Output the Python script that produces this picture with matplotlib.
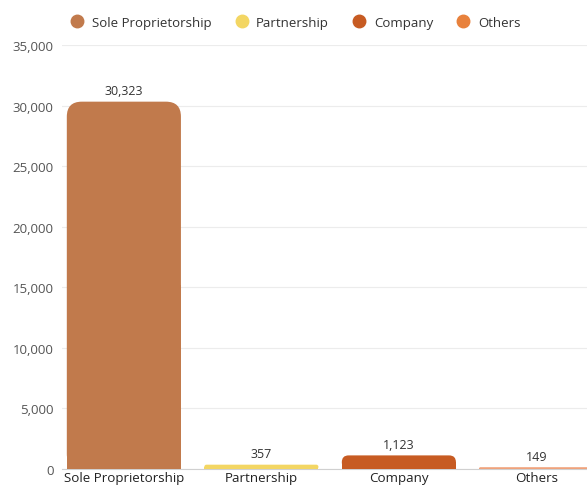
import matplotlib.pyplot as plt
from matplotlib.patches import FancyBboxPatch, Rectangle
from matplotlib.lines import Line2D
from matplotlib.ticker import FuncFormatter

categories = ['Sole Proprietorship', 'Partnership', 'Company', 'Others']
counts = [30323, 357, 1123, 149]
colors = ['#C17A4C', '#F3D663', '#C75B22', '#E8813C']
bar_colors = ['#C17A4C', '#F3D663', '#C75B22', '#EFA27C']

plt.rcParams['font.family'] = ['Open Sans', 'DejaVu Sans']

fig = plt.figure(figsize=(5.87, 4.89), dpi=100)
# axes run past the right edge, so the last bar is cut off
ax = fig.add_axes([62 / 587, 19 / 489, 550 / 587, 424 / 489])

width = 0.83
ax.set_xlim(-0.45, 3.55)
ax.set_ylim(0, 35000)

# rounded-top bars: rounded box plus a square lower half
px_x = 550 / 4.0          # pixels per category
px_y = 424 / 35000        # pixels per count
r_px = 15
aspect = px_x / px_y      # counts per category unit at equal pixel size
for i, (h, c) in enumerate(zip(counts, bar_colors)):
    x0 = i - width / 2
    r = min(r_px / px_x, (h / aspect) / 2)
    box = FancyBboxPatch((x0, 0), width, h,
                         boxstyle=f'round,pad=0,rounding_size={r}',
                         mutation_aspect=aspect, fc=c, ec='none', zorder=3)
    ax.add_patch(box)
    ax.add_patch(Rectangle((x0, 0), width, h / 2, fc=c, ec='none', zorder=3))
    ax.text(i, h + 380, f'{h:,}', ha='center', va='bottom',
            fontsize=9, color='#333333')

ax.set_xticks(range(len(categories)))
ax.set_xticklabels(categories, fontsize=9.6, color='#222222')
ax.set_yticks(range(0, 35001, 5000))
ax.yaxis.set_major_formatter(FuncFormatter(lambda v, p: f'{int(v):,}'))
ax.tick_params(axis='y', labelsize=9.5, labelcolor='#555555', length=0, pad=6)
ax.tick_params(axis='x', length=0, pad=1.5)
ax.grid(axis='y', color='#ececec', linewidth=0.8, zorder=0)
for s in ['top', 'right', 'left']:
    ax.spines[s].set_visible(False)
ax.spines['bottom'].set_color('#d0d0d0')

handles = [Line2D([], [], marker='o', ls='none', ms=9, color=c) for c in colors]
fig.legend(handles, categories, loc='upper left', bbox_to_anchor=(52 / 587, 0.99),
           ncol=4, frameon=False, fontsize=9.5, handletextpad=0.1,
           columnspacing=1.3, labelcolor='#333333')

fig.savefig('out.png', dpi=100)
